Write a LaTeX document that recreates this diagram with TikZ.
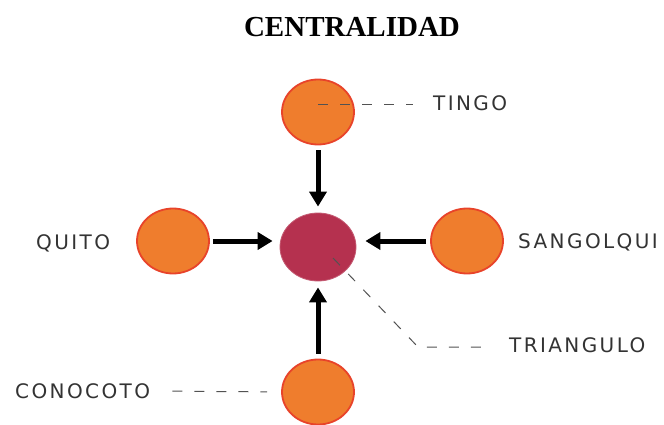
\documentclass[tikz,border=0pt]{standalone}
\usepackage{fontspec}
\setmainfont{Liberation Serif}
\newfontfamily\lblfont[LetterSpace=12]{DejaVu Sans}
\usetikzlibrary{arrows.meta,shapes.geometric,calc}
\definecolor{cityorange}{HTML}{EF7D2D}
\definecolor{cityred}{HTML}{E8432A}
\definecolor{hubred}{HTML}{B5314F}
\definecolor{lblgray}{HTML}{333333}
\tikzset{
  city/.style={ellipse, draw=cityred, line width=1.8pt, fill=cityorange, minimum width=72pt, minimum height=65pt, inner sep=0pt},
  hub/.style={ellipse, draw=hubred!80!white, line width=0.8pt, fill=hubred, minimum width=76pt, minimum height=68pt, inner sep=0pt},
  lbl/.style={text=lblgray, font=\lblfont\fontsize{20pt}{20pt}\selectfont, inner sep=0pt},
  flow/.style={line width=5pt, -{Triangle[length=15pt,width=17pt]}, shorten <=5pt, shorten >=6pt},
  lead/.style={draw=lblgray!85!white, line width=1pt, dash pattern=on 10pt off 12pt}
}
\begin{document}
\begin{tikzpicture}[x=1pt,y=-1pt]
  \useasboundingbox (0,0) rectangle (664,425);
  % title
  \node (title) at (352,27) {\fontsize{29pt}{29pt}\selectfont\bfseries CENTRALIDAD};
  % circles
  \node[hub]  (triangulo) at (318,247) {};
  \node[city] (tingo)     at (318,112) {};
  \node[city] (quito)     at (173,241) {};
  \node[city] (sangolqui) at (467,241) {};
  \node[city] (conocoto)  at (318,392) {};
  % labels
  \node[lbl, anchor=west] (lbltingo)     at (433,103) {TINGO};
  \node[lbl, anchor=west] (lblquito)     at (36,243)  {QUITO};
  \node[lbl, anchor=west] (lblsangolqui) at (518,242) {SANGOLQUI};
  \node[lbl, anchor=west] (lbltriangulo) at (509,345) {TRIANGULO};
  \node[lbl, anchor=west] (lblconocoto)  at (15,391)  {CONOCOTO};
  % arrows to the centre
  \draw[flow] (tingo) -- (triangulo);
  \draw[flow, shorten <=3pt, shorten >=7pt] (quito.east) -- (quito.east -| triangulo.west);
  \draw[flow, shorten <=4pt, shorten >=9pt] (sangolqui.west) -- (sangolqui.west -| triangulo.east);
  \draw[flow] (conocoto) -- (triangulo);
  % leader lines
  \coordinate (tingostart) at ($(tingo.center)+(0,-7)$);
  \coordinate (hubstart) at ($(triangulo.center)+(15,11)$);
  \coordinate (bend) at (418,347);
  \draw[lead, shorten >=20pt] (tingostart) -- (tingostart -| lbltingo.west);
  \draw[lead, shorten <=22pt, shorten >=14pt] (lblconocoto.east) -- (conocoto.west);
  \draw[lead, shorten >=17pt] (hubstart) -- (bend) -- (bend -| lbltriangulo.west);
\end{tikzpicture}
\end{document}
